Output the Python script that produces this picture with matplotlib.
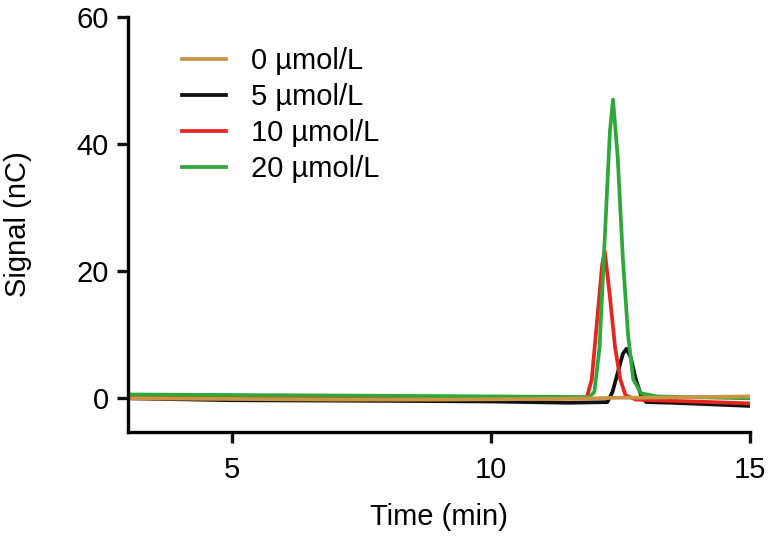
import matplotlib.pyplot as plt

plt.rcParams['font.family'] = ['Liberation Sans', 'DejaVu Sans']

labels = ['0 µmol/L', '5 µmol/L', '10 µmol/L', '20 µmol/L']
colors = ['#c99443', '#111111', '#e8241f', '#2fa83a']

t_0 = [3, 5, 7, 9, 11, 12, 12.5, 13, 14, 15]
y_0 = [0.0, -0.1, -0.2, -0.2, -0.1, 0.0, 0.1, 0.1, 0.2, 0.3]

t_5 = [3, 5, 8, 10, 11.5, 12.25, 12.35, 12.45, 12.55, 12.62, 12.7, 12.8, 12.9, 13.0, 13.5, 15]
y_5 = [0.0, -0.3, -0.4, -0.5, -0.7, -0.6, 1.0, 4.0, 7.0, 7.8, 6.5, 3.0, 0.5, -0.6, -0.7, -1.2]

t_10 = [3, 8, 11.5, 11.85, 11.95, 12.05, 12.15, 12.2, 12.3, 12.4, 12.5, 12.6, 12.8, 15]
y_10 = [0.2, 0.0, 0.0, 0.0, 3, 12, 21, 23.2, 16, 8, 3, 0.5, -0.2, -0.8]

t_20 = [3, 8, 11.9, 12.0, 12.1, 12.2, 12.3, 12.36, 12.45, 12.55, 12.65, 12.75, 12.9, 13.2, 15]
y_20 = [0.6, 0.4, 0.2, 1, 8, 25, 42, 47, 38, 22, 10, 3, 0.8, 0.3, 0.0]

fig = plt.figure(figsize=(7.73, 5.4), dpi=100)
ax = fig.add_axes([0.1656, 0.2, 0.8044, 0.7685])

lw = 2.7
h5, = ax.plot(t_5, y_5, color=colors[1], lw=lw, label=labels[1])
h10, = ax.plot(t_10, y_10, color=colors[2], lw=lw, label=labels[2])
h20, = ax.plot(t_20, y_20, color=colors[3], lw=lw, label=labels[3])
h0, = ax.plot(t_0, y_0, color=colors[0], lw=lw, label=labels[0])

ax.set_xlim(3, 15)
ax.set_ylim(-5.3, 60)
ax.set_xticks([5, 10, 15])
ax.set_yticks([0, 20, 40, 60])
for s in ['top', 'right']:
    ax.spines[s].set_visible(False)
for s in ['left', 'bottom']:
    ax.spines[s].set_linewidth(2.4)
ax.tick_params(width=2.4, length=8, labelsize=21, color='#111111')
ax.tick_params(axis='x', pad=9)
ax.tick_params(axis='y', pad=6)
ax.set_xlabel('Time (min)', fontsize=21)
ax.set_ylabel('Signal (nC)', fontsize=21)
ax.xaxis.set_label_coords(0.5, -0.171)
ax.yaxis.set_label_coords(-0.155, 0.5)

ax.legend(handles=[h0, h5, h10, h20], loc='upper left', bbox_to_anchor=(0.045, 0.99),
          frameon=False, fontsize=21, handlelength=1.5, handletextpad=0.86,
          labelspacing=0.27)

fig.savefig('out.png', dpi=100)
